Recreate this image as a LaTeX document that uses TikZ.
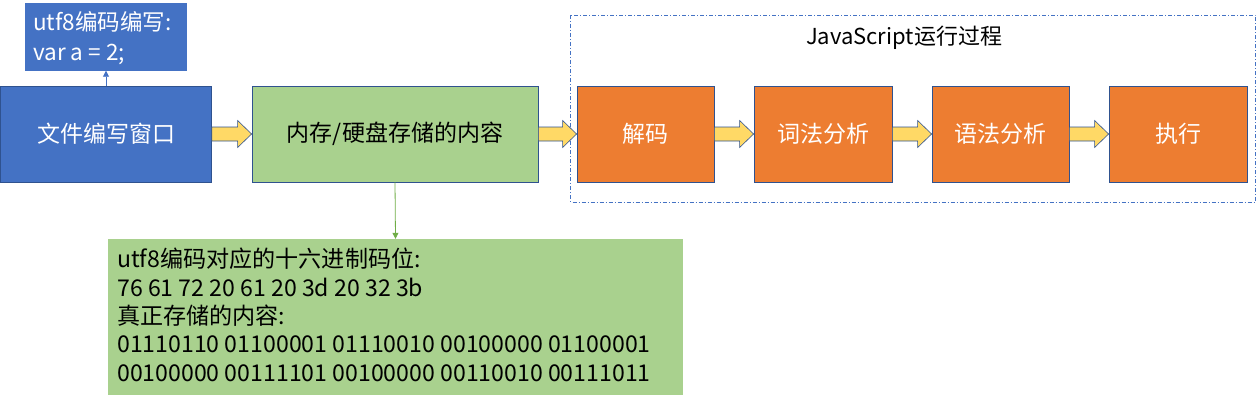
\documentclass[tikz,border=0pt]{standalone}
\usepackage{fontspec}
\setmainfont{Noto Sans CJK SC}
\usetikzlibrary{calc,arrows.meta}
\definecolor{cblue}{HTML}{4472C4}
\definecolor{cedge}{HTML}{2F528F}
\definecolor{cgreen}{HTML}{A9D18E}
\definecolor{corange}{HTML}{ED7D31}
\definecolor{cyellow}{HTML}{FFD966}
\definecolor{cgline}{HTML}{70AD47}
\tikzset{
  box/.style={draw=cedge, line width=0.8pt, inner sep=0pt, minimum height=96pt,
    font=\fontsize{23}{28}\selectfont},
  bluebox/.style={box, fill=cblue, text=white},
  greenbox/.style={box, fill=cgreen, text=black},
  orangebox/.style={box, fill=corange, text=white, minimum width=137pt},
  yarrow/.style={draw=cedge, line width=0.6pt, fill=cyellow},
  note/.style={inner sep=0pt, align=left, anchor=north west},
}
\newcommand\blockarrow[2]{%
  \draw[yarrow] let \p1=(#1.east), \p2=(#2.west) in
    (\x1,\y1+7) -- (\x2-14,\y1+7) -- (\x2-14,\y1+13.5) -- (\x2,\y1)
    -- (\x2-14,\y1-13.5) -- (\x2-14,\y1-7) -- (\x1,\y1-7) -- cycle;}
\begin{document}
\begin{tikzpicture}[x=1pt,y=-1pt]
\useasboundingbox (0,0) rectangle (1257,404);
% dashed frame
\draw[cblue, line width=0.8pt, dash pattern=on 4pt off 2pt on 1pt off 2pt] (570.5,15) rectangle (1255.5,202) ;
\node[font=\fontsize{22}{26}\selectfont] (title) at (904,38) {JavaScript运行过程};
% top note
\node[fill=cblue, minimum width=162pt, minimum height=67pt, inner sep=0pt] (topbg) at (106,37) {};
\node[note, text=white, font=\fontsize{22.5}{30}\selectfont] (toptxt) at (33,11) {utf8编码编写:\\var a = 2;};
% main row
\node[bluebox, minimum width=211pt] (editor) at (106,134) {文件编写窗口};
\node[greenbox, minimum width=286pt] (store) at (395,134) {内存/硬盘存储的内容};
\node[orangebox] (decode) at (645.5,134) {解码};
\node[orangebox, minimum width=138pt] (lex) at (823,134) {词法分析};
\node[orangebox] (parse) at (1000.5,134) {语法分析};
\node[orangebox, minimum width=138pt] (exec) at (1178,134) {执行};
% bottom note
\node[fill=cgreen, minimum width=575pt, minimum height=156pt, inner sep=0pt] (botbg) at (395.5,317) {};
\node[note, font=\fontsize{23.1}{28.4}\selectfont] (bottxt) at (117,248)
  {utf8编码对应的十六进制码位:\\76 61 72 20 61 20 3d 20 32 3b\\真正存储的内容:\\01110110 01100001 01110010 00100000 01100001\\00100000 00111101 00100000 00110010 00111011};
% connectors
\draw[cblue, line width=0.8pt, -{Triangle[length=6pt,width=6pt]}] (editor.north) -- (topbg.south);
\draw[cgline, line width=0.8pt, -{Triangle[length=6pt,width=6pt]}] (store.south) -- (botbg.north);
\blockarrow{editor}{store}
\blockarrow{store}{decode}
\blockarrow{decode}{lex}
\blockarrow{lex}{parse}
\blockarrow{parse}{exec}
\end{tikzpicture}
\end{document}
